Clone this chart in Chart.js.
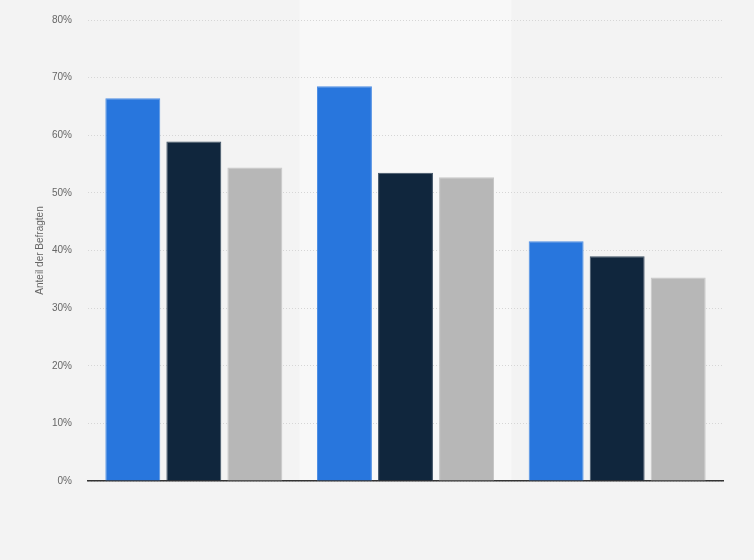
<!DOCTYPE html>
<html><head><meta charset="utf-8">
<script src="https://cdn.jsdelivr.net/npm/chart.js@4"></script>
<style>html,body{margin:0;padding:0;background:#f3f3f3;}#wrap{width:754px;height:560px;}</style>
</head><body><div id="wrap"><canvas id="c" width="754" height="560"></canvas></div>
<script>
const categories = ["", " ", "  "];
const series1 = [66.4, 68.5, 41.6];
const series2 = [58.9, 53.5, 39.0];
const series3 = [54.4, 52.7, 35.3];
const yTicks = [0, 10, 20, 30, 40, 50, 60, 70, 80];

const bandPlugin = {
  id: 'band',
  beforeDraw(chart) {
    const {ctx, chartArea, scales} = chart;
    const x = scales.x;
    const w = x.getPixelForValue(1) - x.getPixelForValue(0);
    const cx = x.getPixelForValue(1);
    ctx.save();
    ctx.fillStyle = '#f8f8f8';
    ctx.fillRect(cx - w/2, 0, w, chartArea.bottom);
    ctx.restore();
  }
};

new Chart(document.getElementById('c'), {
  type: 'bar',
  data: {
    labels: categories,
    datasets: [
      {data: series1, backgroundColor: '#2876dd', borderColor: '#4f8fe4', borderWidth: 1},
      {data: series2, backgroundColor: '#10263d', borderColor: '#3d5063', borderWidth: 1},
      {data: series3, backgroundColor: '#b7b7b7', borderColor: '#c6c6c6', borderWidth: 1}
    ]
  },
  options: {
    responsive: false,
    animation: false,
    devicePixelRatio: 1,
    layout: {padding: {left: 34, right: 31, top: 20, bottom: 0}},
    plugins: {legend: {display: false}, tooltip: {enabled: false}},
    datasets: {bar: {categoryPercentage: 0.865, barPercentage: 0.9}},
    scales: {
      x: {
        grid: {display: false, drawTicks: false},
        border: {display: true, color: '#333333', width: 1.5},
        ticks: {display: false},
        afterFit(s) { s.height = 79; }
      },
      y: {
        min: 0, max: 80,
        afterBuildTicks(s) { s.ticks = yTicks.map(v => ({value: v})); },
        ticks: {
          callback: v => v + '%',
          color: '#666666',
          font: {family: 'Arial, Liberation Sans, sans-serif', size: 10},
          padding: 16
        },
        grid: {color: '#d6d6d6', lineWidth: 1, drawTicks: false},
        border: {display: false, dash: [1, 2]},
        title: {display: true, text: 'Anteil der Befragten', color: '#666666',
          font: {family: 'Arial, Liberation Sans, sans-serif', size: 10}, padding: {top: 0, bottom: 0}},
        afterFit(s) { s.width = 54; s.paddingTop = 0; s.paddingBottom = 0; }
      }
    }
  },
  plugins: [bandPlugin]
});
</script></body></html>
